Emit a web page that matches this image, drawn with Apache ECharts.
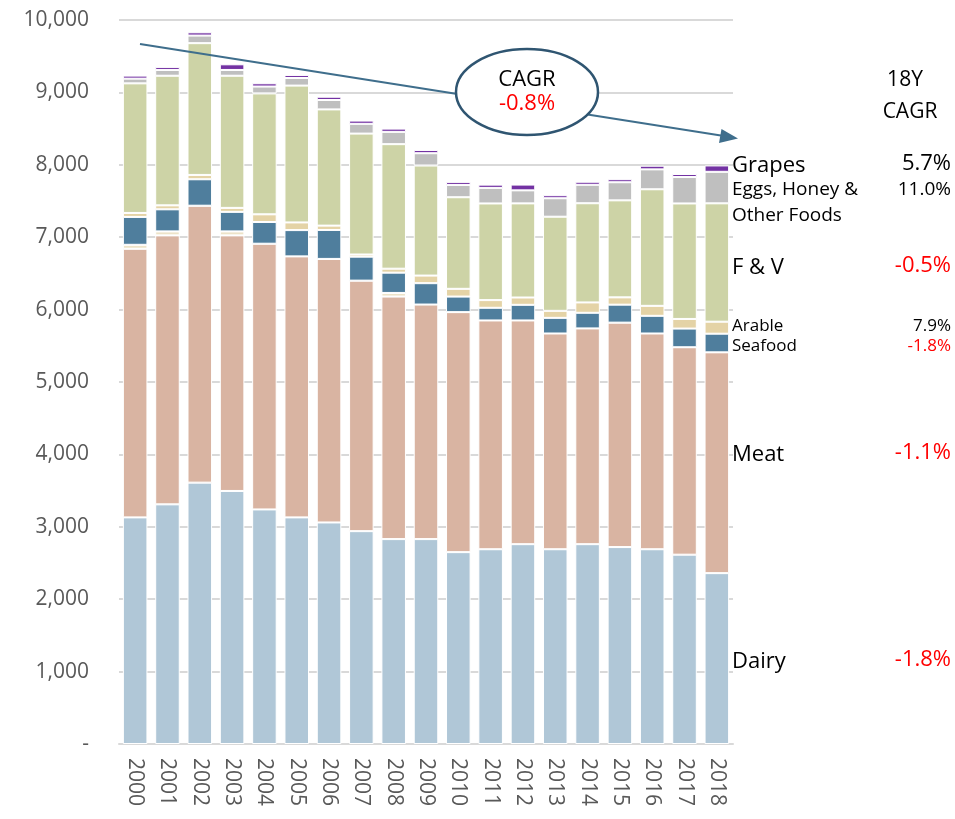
<!DOCTYPE html>
<html>
<head>
<meta charset="utf-8">
<script src="https://cdn.jsdelivr.net/npm/echarts@6/dist/echarts.min.js"></script>
<style>
  html, body { margin: 0; padding: 0; background: #fff; }
  #chart { width: 955px; height: 819px; }
</style>
</head>
<body>
<div id="chart"></div>
<script>
const years = ['2000', '2001', '2002', '2003', '2004', '2005', '2006', '2007', '2008', '2009',
  '2010', '2011', '2012', '2013', '2014', '2015', '2016', '2017', '2018'];

const dairy = [3130, 3310, 3610, 3495, 3240, 3130, 3060, 2940, 2830, 2830, 2650, 2690, 2760, 2690, 2760, 2720, 2690, 2615, 2360];
const meat = [3710, 3715, 3825, 3530, 3670, 3605, 3640, 3460, 3350, 3240, 3315, 3160, 3090, 2980, 2980, 3100, 2980, 2865, 3050];
// thin unlabelled band between meat and seafood in a few years
const other = [55, 55, 0, 55, 0, 0, 0, 0, 50, 0, 0, 0, 0, 0, 0, 0, 0, 0, 0];
const seafood = [385, 305, 365, 270, 300, 363, 400, 331, 280, 295, 215, 175, 216, 216, 216, 248, 244, 258, 257];
const arable = [55, 55, 60, 55, 106, 106, 60, 30, 55, 105, 107, 106, 101, 97, 143, 101, 138, 133, 166];
const fv = [1790, 1790, 1820, 1825, 1670, 1890, 1605, 1670, 1720, 1520, 1265, 1335, 1300, 1300, 1370, 1340, 1610, 1595, 1635];
const eggs = [65, 80, 105, 80, 95, 105, 130, 135, 170, 170, 170, 215, 180, 255, 255, 250, 275, 365, 435];
const grapes = [42, 42, 45, 78, 45, 42, 45, 45, 45, 45, 42, 45, 80, 42, 42, 42, 50, 42, 88];

const seriesDefs = [
  { name: 'Dairy', data: dairy, color: '#b0c7d7' },
  { name: 'Meat', data: meat, color: '#d9b4a2' },
  { name: 'Other', data: other, color: '#ede3c8' },
  { name: 'Seafood', data: seafood, color: '#4f7e9d' },
  { name: 'Arable', data: arable, color: '#e4d3a6' },
  { name: 'F & V', data: fv, color: '#cdd3a6' },
  { name: 'Eggs, Honey & Other Foods', data: eggs, color: '#bfbfbf' },
  { name: 'Grapes', data: grapes, color: '#7332a3' }
];

// right-hand labels: name, 18Y CAGR, y position, size, cagr colour
const sideLabels = [
  ['Grapes', '5.7%', 166, 22, '#000'],
  ['Eggs, Honey &', '11.0%', 190, 19, '#000'],
  ['Other Foods', '', 216, 19, '#000'],
  ['F & V', '-0.5%', 268, 22, '#ff0000'],
  ['Arable', '7.9%', 326, 17, '#000'],
  ['Seafood', '-1.8%', 346, 17, '#ff0000'],
  ['Meat', '-1.1%', 455, 22, '#ff0000'],
  ['Dairy', '-1.8%', 662, 22, '#ff0000']
];

const font = '"Open Sans", "DejaVu Sans", sans-serif';
const chart = echarts.init(document.getElementById('chart'));

const graphics = [
  // trend arrow
  { type: 'line', z: 10, shape: { x1: 140, y1: 44, x2: 724, y2: 136 },
    style: { stroke: '#3f6e8c', lineWidth: 2 } },
  { type: 'polygon', z: 10, shape: { points: [[738, 138.5], [719, 143], [721.5, 129]] },
    style: { fill: '#3f6e8c' } },
  { type: 'ellipse', z: 11, shape: { cx: 527, cy: 92, rx: 71, ry: 43 },
    style: { fill: '#fff', stroke: '#2f5571', lineWidth: 2.5 } },
  { type: 'text', z: 12, x: 527, y: 80, style: { text: 'CAGR', font: '22px ' + font, fill: '#000', align: 'center', verticalAlign: 'middle' } },
  { type: 'text', z: 12, x: 527, y: 104, style: { text: '-0.8%', font: '22px ' + font, fill: '#ff0000', align: 'center', verticalAlign: 'middle' } },
  { type: 'text', z: 12, x: 905, y: 80, style: { text: '18Y', font: '21px ' + font, fill: '#000', align: 'center', verticalAlign: 'middle' } },
  { type: 'text', z: 12, x: 910, y: 112, style: { text: 'CAGR', font: '21px ' + font, fill: '#000', align: 'center', verticalAlign: 'middle' } }
];

sideLabels.forEach(([name, cagr, y, size, col]) => {
  graphics.push({ type: 'text', z: 12, x: 732, y: y,
    style: { text: name, font: size + 'px ' + font, fill: '#000', align: 'left', verticalAlign: 'middle' } });
  if (cagr) {
    graphics.push({ type: 'text', z: 12, x: 951, y: y - (size < 20 ? 0 : 2),
      style: { text: cagr, font: size + 'px ' + font, fill: col, align: 'right', verticalAlign: 'middle' } });
  }
});

const option = {
  animation: false,
  backgroundColor: '#fff',
  grid: { left: 119, right: 222, top: 20, bottom: 75 },
  xAxis: {
    type: 'category',
    data: years,
    axisLine: { lineStyle: { color: '#d9d9d9', width: 2 } },
    axisTick: { show: false },
    axisLabel: { rotate: -90, color: '#595959', fontSize: 21, fontFamily: font, margin: 14 }
  },
  yAxis: {
    type: 'value',
    min: 0,
    max: 10000,
    interval: 1000,
    axisLine: { show: false },
    axisTick: { show: false },
    splitLine: { lineStyle: { color: '#d9d9d9', width: 2 } },
    axisLabel: {
      color: '#595959', fontSize: 21, fontFamily: font, margin: 30,
      formatter: v => v === 0 ? '-' : v.toLocaleString('en-US')
    }
  },
  series: seriesDefs.map(s => ({
    name: s.name,
    type: 'bar',
    stack: 'total',
    barCategoryGap: '24%',
    data: s.data,
    itemStyle: { color: s.color, borderColor: '#fff', borderWidth: 1 }
  })),
  graphic: graphics
};

chart.setOption(option);
</script>
</body>
</html>
